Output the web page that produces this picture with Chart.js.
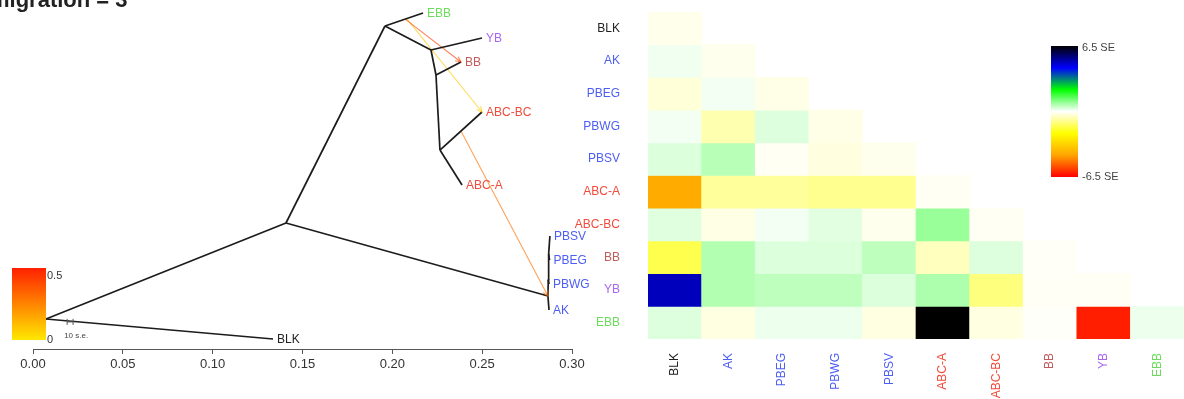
<!DOCTYPE html>
<html>
<head>
<meta charset="utf-8">
<script src="https://cdn.jsdelivr.net/npm/chart.js@4.4.1/dist/chart.umd.min.js"></script>
<style>
  html, body { margin: 0; padding: 0; background: #fff; }
  #wrap { position: relative; width: 1184px; height: 399px; overflow: hidden; }
  #treeChart { position: absolute; left: 0; top: 0; }
  #residChart { position: absolute; left: 540px; top: 0; }
</style>
</head>
<body>
<div id="wrap">
  <canvas id="treeChart" width="590" height="399" style="width:590px;height:399px"></canvas>
  <canvas id="residChart" width="644" height="399" style="width:644px;height:399px"></canvas>
</div>
<script>
const FONT = "'Liberation Sans', Arial, Helvetica, sans-serif";

// populations (order used by the residual matrix) and their label colours
const popNames  = ["BLK", "AK", "PBEG", "PBWG", "PBSV", "ABC-A", "ABC-BC", "BB", "YB", "EBB"];
const popColors = ["#222222", "#4d5ef2", "#4d5ef2", "#4d5ef2", "#4d5ef2", "#f04c3c", "#f04c3c", "#c05c5c", "#aa66ee", "#6cdc5c"];

// tree nodes: drift parameter (x) and vertical layout position (y)
const nodeNames = ["root", "BLK", "A", "B", "EBB", "D", "YB", "E", "BB", "F", "ABC-BC", "ABC-A", "C", "AK", "G1", "PBWG", "G2", "PBEG", "PBSV"];
const nodeDrift = [0.0072, 0.1336, 0.1408, 0.1959, 0.2171, 0.2215, 0.2499, 0.2243, 0.2382, 0.2265, 0.2499, 0.2388, 0.2866, 0.2872, 0.2868, 0.2872, 0.2870, 0.2875, 0.2877];
const nodeY     = [0.0885, 0.0295, 0.3717, 0.9528, 0.9912, 0.8820, 0.9174, 0.8083, 0.8466, 0.5870, 0.6991, 0.4838, 0.1563, 0.1150, 0.2050, 0.1917, 0.2800, 0.2625, 0.3333];

const edgeParent = ["root", "root", "A", "A", "B", "B", "D", "D", "E", "E", "F", "F", "C", "C", "G1", "G1", "G2", "G2"];
const edgeChild  = ["A", "BLK", "B", "C", "EBB", "D", "YB", "E", "BB", "F", "ABC-BC", "ABC-A", "AK", "G1", "PBWG", "G2", "PBEG", "PBSV"];

// migration edges: source edge (parent/child + position along it), target node, weight
const migFromParent = ["B", "B", "F"];
const migFromChild  = ["EBB", "EBB", "ABC-BC"];
const migFromFrac   = [0.53, 0.57, 0.5];
const migTo         = ["BB", "ABC-BC", "C"];
const migWeight     = [0.42, 0.08, 0.30];

// residual fit (in standard errors), lower triangle, one row per population
const residBLK   = [-0.17];
const residAK    = [0.13, -0.15];
const residPBEG  = [-0.33, 0.10, -0.20];
const residPBWG  = [0.10, -0.67, 0.28, -0.20];
const residPBSV  = [0.30, 0.60, -0.10, -0.26, -0.15];
const residABCA  = [-4.2, -0.85, -0.85, -0.95, -0.95, -0.10];
const residABCBC = [0.27, -0.22, 0.10, 0.25, -0.15, 0.87, -0.10];
const residBB    = [-1.5, 0.65, 0.30, 0.30, 0.55, -0.55, 0.28, -0.06];
const residYB    = [4.9, 0.65, 0.55, 0.55, 0.30, 0.70, -1.1, -0.08, -0.08];
const residEBB   = [0.28, -0.25, 0.15, 0.15, -0.25, 6.5, -0.25, -0.05, -6.1, 0.15];
const residRows = [residBLK, residAK, residPBEG, residPBWG, residPBSV, residABCA, residABCBC, residBB, residYB, residEBB];

const xTicks = [0, 0.05, 0.10, 0.15, 0.20, 0.25, 0.30];
const seMax = 6.5;
const residStopColors = [[255, 0, 0], [255, 165, 0], [255, 255, 0], [255, 255, 255], [0, 255, 0], [0, 0, 255], [0, 0, 0]];

function nodePoint(name) {
    const i = nodeNames.indexOf(name);
    return { x: nodeDrift[i], y: nodeY[i] };
}

function residColor(v) {
    let t = (Math.max(-seMax, Math.min(seMax, v)) + seMax) / (2 * seMax) * 6;
    const k = Math.min(5, Math.floor(t));
    const f = t - k;
    const a = residStopColors[k], b = residStopColors[k + 1];
    const c = a.map((ch, n) => Math.round(ch + (b[n] - ch) * f));
    return `rgb(${c[0]},${c[1]},${c[2]})`;
}

function weightColor(w, alpha) {
    const t = Math.max(0, Math.min(1, w / 0.5));
    const g = Math.round(232 + (32 - 232) * t);
    return `rgba(255,${g},0,${alpha})`;
}

// ---- tree ----
let treeDatasets = [];
for (let i = 0; i < edgeParent.length; i++) {
    treeDatasets.push({
        data: [nodePoint(edgeParent[i]), nodePoint(edgeChild[i])],
        showLine: true, borderColor: "#1c1c1c", borderWidth: 1.7, pointRadius: 0
    });
}
for (let i = 0; i < migTo.length; i++) {
    const p = nodePoint(migFromParent[i]), c = nodePoint(migFromChild[i]);
    const f = migFromFrac[i];
    treeDatasets.push({
        data: [{ x: p.x + (c.x - p.x) * f, y: p.y + (c.y - p.y) * f }, nodePoint(migTo[i])],
        showLine: true, borderColor: weightColor(migWeight[i], 0.65), borderWidth: 1.1, pointRadius: 0,
        isMigration: true
    });
}

const treeDecor = {
    id: "treeDecor",
    afterDatasetsDraw(chart) {
        const ctx = chart.ctx;
        const xs = chart.scales.x, ys = chart.scales.y;
        ctx.save();

        // arrow heads on migration edges
        chart.data.datasets.forEach((ds) => {
            if (!ds.isMigration) return;
            const x0 = xs.getPixelForValue(ds.data[0].x), y0 = ys.getPixelForValue(ds.data[0].y);
            const x1 = xs.getPixelForValue(ds.data[1].x), y1 = ys.getPixelForValue(ds.data[1].y);
            const ang = Math.atan2(y1 - y0, x1 - x0);
            ctx.strokeStyle = ds.borderColor;
            ctx.lineWidth = 1.1;
            ctx.beginPath();
            ctx.moveTo(x1 - 6 * Math.cos(ang - 0.45), y1 - 6 * Math.sin(ang - 0.45));
            ctx.lineTo(x1, y1);
            ctx.lineTo(x1 - 6 * Math.cos(ang + 0.45), y1 - 6 * Math.sin(ang + 0.45));
            ctx.stroke();
        });

        // tip labels
        ctx.font = `12px ${FONT}`;
        ctx.textAlign = "left";
        ctx.textBaseline = "middle";
        popNames.forEach((name, i) => {
            const pt = nodePoint(name);
            ctx.fillStyle = popColors[i];
            ctx.fillText(name, xs.getPixelForValue(pt.x) + 4, ys.getPixelForValue(pt.y) + 1);
        });

        // migration weight colour bar
        const gx = 12, gy = 268, gw = 34, gh = 72;
        const grad = ctx.createLinearGradient(0, gy, 0, gy + gh);
        grad.addColorStop(0, weightColor(0.5, 1));
        grad.addColorStop(1, weightColor(0, 1));
        ctx.fillStyle = grad;
        ctx.fillRect(gx, gy, gw, gh);
        ctx.fillStyle = "#333";
        ctx.font = `11px ${FONT}`;
        ctx.fillText("0.5", gx + gw + 1, gy + 8);
        ctx.fillText("0", gx + gw + 1, gy + gh);

        // 10 s.e. scale bar
        const sx0 = xs.getPixelForValue(0.0190), sx1 = xs.getPixelForValue(0.0223), sy = ys.getPixelForValue(0.080);
        ctx.strokeStyle = "#555";
        ctx.lineWidth = 1;
        ctx.beginPath();
        ctx.moveTo(sx0, sy); ctx.lineTo(sx1, sy);
        ctx.moveTo(sx0, sy - 3); ctx.lineTo(sx0, sy + 3);
        ctx.moveTo(sx1, sy - 3); ctx.lineTo(sx1, sy + 3);
        ctx.stroke();
        ctx.fillStyle = "#444";
        ctx.font = `8px ${FONT}`;
        ctx.fillText("10 s.e.", sx0 - 3, sy + 14);

        // title
        ctx.fillStyle = "#222";
        ctx.font = `bold 22px ${FONT}`;
        ctx.textBaseline = "alphabetic";
        ctx.fillText("migration = 3", -10, 7);
        ctx.restore();
    }
};

new Chart(document.getElementById("treeChart").getContext("2d"), {
    type: "scatter",
    data: { datasets: treeDatasets },
    options: {
        responsive: false,
        animation: false,
        layout: { padding: { left: 33, right: 18, top: 10, bottom: 0 } },
        plugins: { legend: { display: false }, tooltip: { enabled: false } },
        scales: {
            x: {
                type: "linear", min: 0, max: 0.30,
                afterFit: (s) => { s.height = 50; },
                afterBuildTicks: (s) => { s.ticks = xTicks.map((v) => ({ value: v })); },
                grid: { drawOnChartArea: false, drawTicks: true, tickLength: 5, color: "#555" },
                border: { display: true, color: "#555" },
                ticks: { font: { family: FONT, size: 13 }, color: "#333", padding: 3, maxRotation: 0, autoSkip: false,
                         callback: (v) => v.toFixed(2) }
            },
            y: { type: "linear", min: 0, max: 1, display: false }
        }
    },
    plugins: [treeDecor]
});

// ---- residual heatmap ----
const residDatasets = residRows.map((row, i) => ({
    data: popNames.map((_, j) => (j <= i ? [i, i + 1] : null)),
    backgroundColor: popNames.map((_, j) => (j <= i ? residColor(row[j]) : "rgba(0,0,0,0)")),
    grouped: false, barPercentage: 1, categoryPercentage: 1, borderWidth: 0
}));

const residLegend = {
    id: "residLegend",
    afterDatasetsDraw(chart) {
        const ctx = chart.ctx;
        const lx = chart.chartArea.left + 403, ly = 46, lw = 27, lh = 131;
        ctx.save();
        const grad = ctx.createLinearGradient(0, ly, 0, ly + lh);
        residStopColors.slice().reverse().forEach((c, k) => {
            grad.addColorStop(k / 6, `rgb(${c[0]},${c[1]},${c[2]})`);
        });
        ctx.fillStyle = grad;
        ctx.fillRect(lx, ly, lw, lh);
        ctx.fillStyle = "#444";
        ctx.font = `11px ${FONT}`;
        ctx.textAlign = "left";
        ctx.textBaseline = "middle";
        ctx.fillText(`${seMax} SE`, lx + lw + 4, ly + 2);
        ctx.fillText(`-${seMax} SE`, lx + lw + 4, ly + lh);
        ctx.restore();
    }
};

new Chart(document.getElementById("residChart").getContext("2d"), {
    type: "bar",
    data: { labels: popNames, datasets: residDatasets },
    options: {
        responsive: false,
        animation: false,
        layout: { padding: { left: 0, right: 0, top: 12, bottom: 0 } },
        plugins: { legend: { display: false }, tooltip: { enabled: false } },
        scales: {
            x: {
                type: "category",
                afterFit: (s) => { s.height = 60; s.paddingLeft = 0; s.paddingRight = 0; },
                grid: { display: false }, border: { display: false },
                ticks: { minRotation: 90, maxRotation: 90, autoSkip: false, padding: 6,
                         font: { family: FONT, size: 12 }, color: (c) => popColors[c.index] }
            },
            y: {
                type: "linear", min: 0, max: 10, reverse: true,
                afterFit: (s) => { s.width = 108; s.paddingTop = 0; s.paddingBottom = 0; },
                afterBuildTicks: (s) => { s.ticks = popNames.map((_, i) => ({ value: i + 0.5 })); },
                grid: { display: false }, border: { display: false },
                ticks: { padding: 20, font: { family: FONT, size: 12 }, color: (c) => popColors[c.index],
                         callback: (v, i) => popNames[i] }
            }
        }
    },
    plugins: [residLegend]
});
</script>
</body>
</html>
